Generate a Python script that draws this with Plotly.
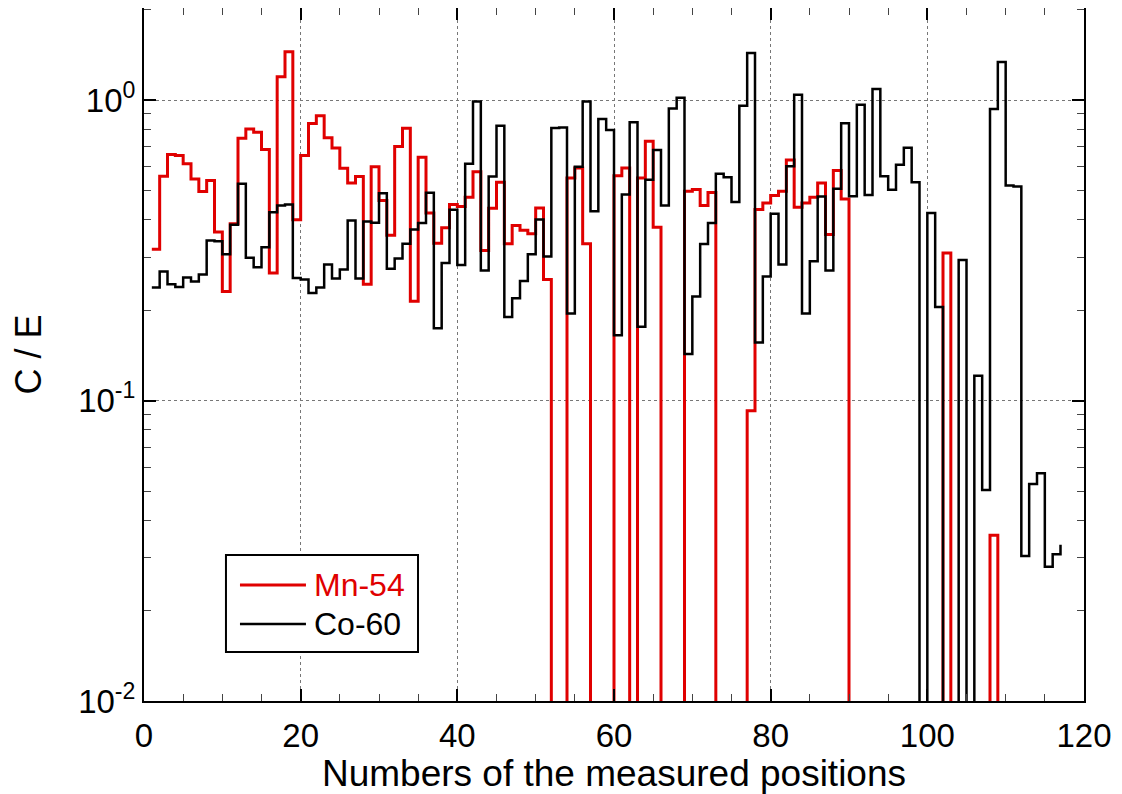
import plotly.graph_objects as go

# Measured positions (1..117)
positions = list(range(1, 118))

# Mn-54 C/E values (0 = not detected)
mn54 = [
    0.319, 0.558, 0.659, 0.654, 0.614, 0.547, 0.497, 0.540, 0.364, 0.231,
    0.388, 0.747, 0.802, 0.782, 0.685, 0.266, 1.197, 1.450, 0.400, 0.654,
    0.837, 0.888, 0.750, 0.693, 0.594, 0.530, 0.557, 0.244, 0.601, 0.464,
    0.355, 0.702, 0.806, 0.214, 0.646, 0.421, 0.334, 0.376, 0.450, 0.443,
    0.475, 0.578, 0.316, 0.437, 0.533, 0.333, 0.383, 0.369, 0.359, 0.438,
    0.253, 0, 0, 0.551, 0.595, 0.333, 0, 0, 0, 0.561,
    0.595, 0, 0.551, 0.730, 0.378, 0, 0, 0, 0.498, 0.504,
    0.446, 0.493, 0, 0, 0, 0, 0.0925, 0.433, 0.455, 0.482,
    0.498, 0.633, 0.440, 0.455, 0.475, 0.530, 0.357, 0.583, 0.469, 0,
    0, 0, 0, 0, 0, 0, 0, 0, 0, 0,
    0, 0.310, 0, 0, 0, 0, 0, 0.0356, 0, 0,
    0, 0, 0, 0, 0, 0, 0,
]

# Co-60 C/E values (0 = not detected)
co60 = [
    0.238, 0.269, 0.244, 0.239, 0.257, 0.249, 0.263, 0.341, 0.339, 0.307,
    0.385, 0.527, 0.299, 0.278, 0.324, 0.424, 0.446, 0.450, 0.256, 0.253,
    0.228, 0.238, 0.284, 0.255, 0.273, 0.398, 0.255, 0.395, 0.391, 0.490,
    0.275, 0.297, 0.333, 0.371, 0.390, 0.492, 0.174, 0.287, 0.432, 0.283,
    0.614, 0.991, 0.271, 0.557, 0.823, 0.190, 0.219, 0.250, 0.307, 0.401,
    0.302, 0.808, 0.812, 0.195, 0.601, 0.991, 0.427, 0.866, 0.796, 0.165,
    0.485, 0.844, 0.176, 0.544, 0.683, 0.446, 0.939, 1.020, 0.143, 0.222,
    0.332, 0.390, 0.569, 0.554, 0.458, 0.959, 1.435, 0.156, 0.259, 0.419,
    0.284, 0.603, 1.043, 0.195, 0.291, 0.478, 0.271, 0.507, 0.838, 0.479,
    0.966, 0.484, 1.089, 0.558, 0.503, 0.610, 0.694, 0.533, 0, 0.421,
    0.205, 0, 0, 0.294, 0, 0.121, 0.0504, 0.935, 1.340, 0.520,
    0.516, 0.0304, 0.0528, 0.0573, 0.0280, 0.0308, 0.0331,
]

series_names = ["Mn-54", "Co-60"]
series_colors = ["#e00000", "black"]

x_ticks = [0, 20, 40, 60, 80, 100, 120]
y_ticks = [0.01, 0.1, 1]
y_tick_text = ["10<sup>-2</sup>", "10<sup>-1</sup>", "10<sup>0</sup>"]

FLOOR = 1e-4  # zero values are drawn below the axis so the step drops off-chart


def floor_zero(vals):
    return [v if v > 0 else FLOOR for v in vals]


FONT = "Liberation Sans, Arial, Helvetica, sans-serif"

fig = go.Figure()
for vals, name, color, w in [(mn54, series_names[0], series_colors[0], 3),
                             (co60, series_names[1], series_colors[1], 2.5)]:
    fig.add_trace(go.Scatter(
        x=positions, y=floor_zero(vals), mode="lines", line_shape="hv",
        line=dict(color=color, width=w), name=name, showlegend=False,
    ))

# Manual legend (box, line samples, labels) in paper coordinates
box = dict(x0=0.0872, x1=0.2915, y0=0.0707, y1=0.2107)
rows_y = [0.1674, 0.1111]
shapes = [dict(type="rect", xref="paper", yref="paper", line=dict(color="black", width=2),
               fillcolor="white", layer="above", **box)]
annotations = []
for name, color, ry, w in zip(series_names, series_colors, rows_y, [3, 2.5]):
    shapes.append(dict(type="line", xref="paper", yref="paper", x0=0.1021, x1=0.1723,
                       y0=ry, y1=ry, line=dict(color=color, width=w), layer="above"))
    annotations.append(dict(xref="paper", yref="paper", x=0.1790, y=ry, xanchor="left",
                            yanchor="middle", text=name, showarrow=False,
                            font=dict(family=FONT, size=32, color=color)))

minor_y = [k * 10 ** e for e in (-2, -1, 0) for k in range(2, 10)]

fig.update_layout(
    width=1114, height=786,
    margin=dict(l=136, r=38, t=0, b=93, autoexpand=False),
    paper_bgcolor="white", plot_bgcolor="white",
    font=dict(family=FONT, color="black"),
    shapes=shapes, annotations=annotations,
    xaxis=dict(
        range=[0, 120], tickvals=x_ticks,
        ticks="inside", ticklen=12, tickwidth=1.5, tickcolor="black",
        minor=dict(dtick=5, ticks="inside", ticklen=7, tickwidth=1, tickcolor="#444", showgrid=False),
        showline=True, linecolor="black", linewidth=2, mirror="allticks",
        showgrid=True, gridcolor="#777", griddash="dot", gridwidth=1,
        zeroline=False, ticklabelstandoff=4,
        tickfont=dict(family=FONT, size=33),
        title=dict(text="Numbers of the measured positions", font=dict(family=FONT, size=37), standoff=2),
    ),
    yaxis=dict(
        type="log", range=[-2, 0.307],
        tickvals=y_ticks, ticktext=y_tick_text,
        ticks="inside", ticklen=12, tickwidth=1.5, tickcolor="black",
        minor=dict(tickvals=minor_y, ticks="inside", ticklen=7, tickwidth=1, tickcolor="#444", showgrid=False),
        showline=True, linecolor="black", linewidth=2, mirror="allticks",
        showgrid=True, gridcolor="#777", griddash="dot", gridwidth=1,
        zeroline=False,
        tickfont=dict(family=FONT, size=33),
        title=dict(text="C / E", font=dict(family=FONT, size=36), standoff=32),
    ),
)

fig.write_html("out.html")
